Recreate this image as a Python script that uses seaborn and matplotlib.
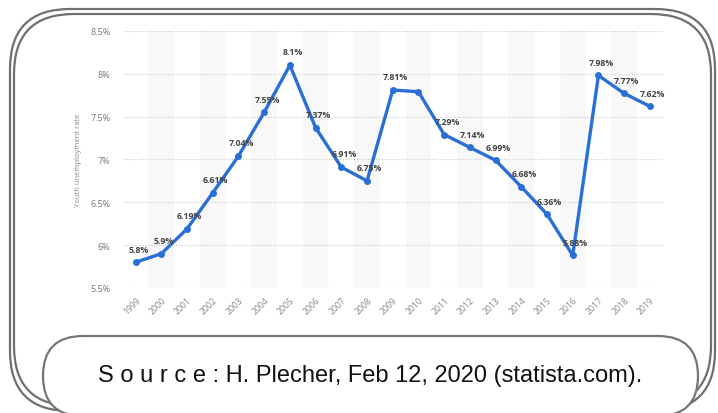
import matplotlib
matplotlib.use("Agg")
import matplotlib.pyplot as plt
from matplotlib.patches import FancyBboxPatch
import pandas as pd
import seaborn as sns

years = list(range(1999, 2020))
rates = [5.8, 5.9, 6.19, 6.61, 7.04, 7.55, 8.1, 7.37, 6.91, 6.75, 7.81,
         7.79, 7.29, 7.14, 6.99, 6.68, 6.36, 5.88, 7.98, 7.77, 7.62]
point_labels = ["5.8%", "5.9%", "6.19%", "6.61%", "7.04%", "7.55%", "8.1%",
                "7.37%", "6.91%", "6.75%", "7.81%", "", "7.29%", "7.14%",
                "6.99%", "6.68%", "6.36%", "5.88%", "7.98%", "7.77%", "7.62%"]
y_ticks = [5.5, 6, 6.5, 7, 7.5, 8, 8.5]
y_tick_labels = ["5.5%", "6%", "6.5%", "7%", "7.5%", "8%", "8.5%"]

sns.set_theme(style="white")
plt.rcParams['font.family'] = ['Open Sans', 'DejaVu Sans']

df = pd.DataFrame({"Year": years, "Rate": rates})

fig = plt.figure(figsize=(7.18, 4.14), dpi=100)
ax = fig.add_axes([0.171, 0.302, 0.752, 0.621])

# alternating column shading
for yr in years[1::2]:
    ax.axvspan(yr - 0.5, yr + 0.5, color="#f8f8f8", zorder=0, lw=0)

sns.lineplot(data=df, x="Year", y="Rate", ax=ax, color="#2a6fd6",
             linewidth=2.4, marker="o", markersize=5, markeredgewidth=0, zorder=3)

for yr, r, lab in zip(years, rates, point_labels):
    if lab:
        ax.annotate(lab, (yr, r), xytext=(2, 9.5), textcoords="offset points",
                    ha="center", va="center", fontsize=6.3, fontweight="bold",
                    color="#444444", zorder=4)

ax.set_xlim(1998.5, 2019.5)
ax.set_ylim(5.5, 8.5)
ax.set_yticks(y_ticks)
ax.set_yticklabels(y_tick_labels)
ax.set_xticks(years)
ax.set_xticklabels([str(y) for y in years], rotation=45, ha="right",
                   rotation_mode="anchor")
ax.tick_params(axis="y", length=0, pad=9, labelsize=6.5, labelcolor="#777777")
ax.tick_params(axis="x", length=0, pad=5, labelsize=6.2, labelcolor="#888888")
ax.grid(axis="y", linestyle=(0, (1, 1.5)), color="#cccccc", linewidth=0.8)
ax.grid(axis="x", visible=False)
for s in ax.spines.values():
    s.set_visible(False)
ax.set_xlabel("")
ax.set_ylabel("Youth unemployment rate", fontsize=5.5, color="#888888")
ax.yaxis.set_label_coords(-0.075, 0.5)

# decorative frames (pixel-like coordinates in inches)
H = 4.14
tr = fig.dpi_scale_trans
for x0, y0, x1, y1 in [(0.10, 0.10, 7.15, 4.12), (0.14, 0.15, 7.11, 4.07)]:
    fig.patches.append(FancyBboxPatch((x0, H - y1), x1 - x0, y1 - y0,
                                      boxstyle="round,pad=0,rounding_size=0.6",
                                      transform=tr, fill=False,
                                      edgecolor="#6f6f6f", linewidth=1.6))

fig.patches.append(FancyBboxPatch((0.43, H - 4.17), 6.55, 0.80,
                                  boxstyle="round,pad=0,rounding_size=0.40",
                                  transform=tr, facecolor="white",
                                  edgecolor="#777777", linewidth=1.6))

fig.text(3.70 / 7.18, 1 - 3.76 / H, "S o u r c e : H. Plecher, Feb 12, 2020 (statista.com).",
         ha="center", va="center", fontsize=17, color="#111111",
         family=["Liberation Sans", "DejaVu Sans"])

fig.savefig("out.png", dpi=100)
